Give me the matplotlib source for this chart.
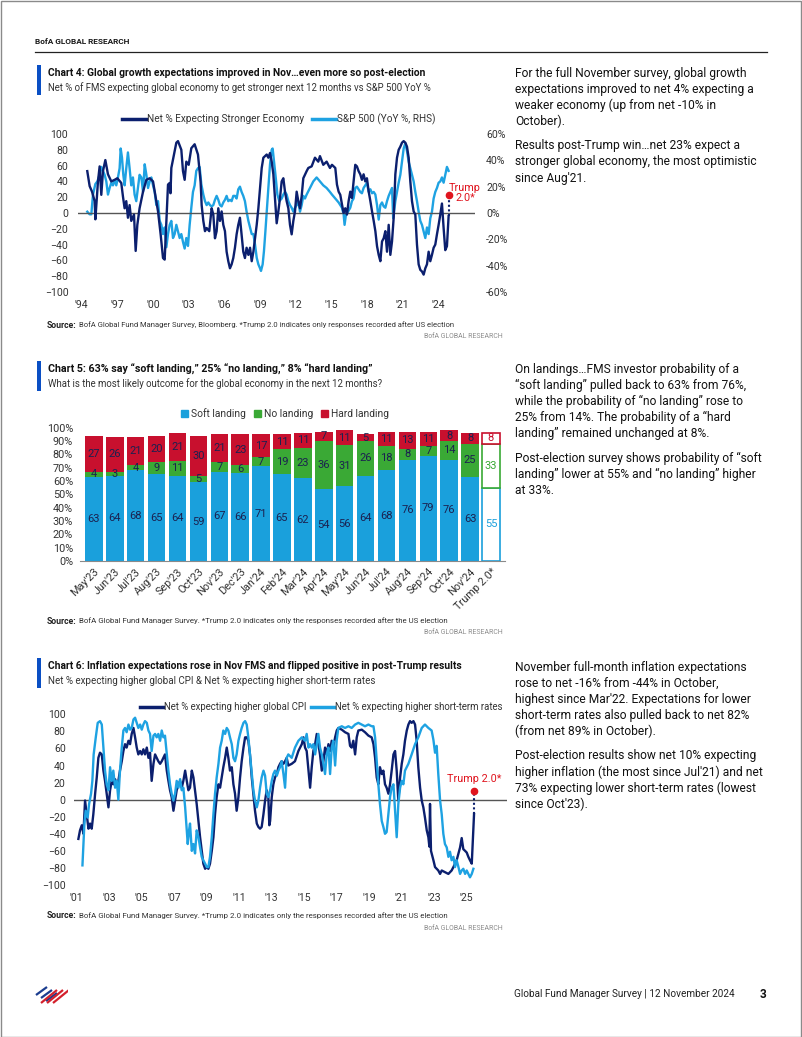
import matplotlib
matplotlib.use('Agg')
import matplotlib.pyplot as plt
from matplotlib.lines import Line2D
from matplotlib.patches import Patch, Rectangle

# ---------------- DATA ----------------
# Chart 4: net % expecting stronger economy (LHS) and S&P 500 YoY % (RHS)
growth = [(1994.47,53),(1994.67,34),(1994.87,27),(1995.09,15),(1995.15,-8),(1995.37,40),(1995.51,59),(1995.65,23),(1995.79,53),(1995.99,67),(1996.21,49),(1996.49,40),(1996.77,42),(1997.00,44),(1997.33,38),(1997.47,21),(1997.61,6),(1997.75,15),(1997.89,-6),(1998.03,10),(1998.17,-10),(1998.40,-2),(1998.54,-48),(1998.68,-15),(1998.87,6),(1999.16,27),(1999.44,42),(1999.72,44),(2000.00,40),(2000.19,23),(2000.42,2),(2000.64,-27),(2000.84,-57),(2000.98,-59),(2001.12,-10),(2001.26,36),(2001.40,38),(2001.47,25),(2001.54,57),(2001.76,74),(2001.96,89),(2002.10,91),(2002.38,80),(2002.52,53),(2002.66,42),(2002.80,65),(2003.00,61),(2003.22,82),(2003.50,87),(2003.78,74),(2004.00,40),(2004.09,10),(2004.23,-10),(2004.37,-23),(2004.51,-19),(2004.73,-23),(2004.93,6),(2005.07,-2),(2005.21,-32),(2005.35,-23),(2005.49,6),(2005.63,-10),(2005.77,2),(2005.91,-15),(2006.05,-23),(2006.19,-49),(2006.33,-61),(2006.47,-70),(2006.61,-65),(2006.75,-57),(2006.89,-44),(2007.03,-27),(2007.17,-15),(2007.31,-6),(2007.45,-27),(2007.59,-49),(2007.73,-57),(2007.87,-44),(2008.02,-53),(2008.16,-44),(2008.30,-61),(2008.44,-49),(2008.58,-32),(2008.72,-15),(2008.86,6),(2009.00,32),(2009.14,57),(2009.28,70),(2009.42,72),(2009.56,74),(2009.70,70),(2009.84,76),(2009.98,65),(2010.12,49),(2010.26,19),(2010.40,-13),(2010.54,2),(2010.68,19),(2010.82,40),(2010.96,44),(2011.10,27),(2011.24,15),(2011.38,6),(2011.52,-15),(2011.66,-27),(2011.80,-10),(2011.94,2),(2012.08,27),(2012.22,15),(2012.36,6),(2012.50,21),(2012.64,44),(2012.92,53),(2013.06,57),(2013.34,59),(2013.62,70),(2013.90,65),(2014.04,72),(2014.32,61),(2014.60,65),(2014.88,57),(2015.05,61),(2015.33,57),(2015.47,36),(2015.61,27),(2015.75,23),(2015.89,11),(2016.03,0),(2016.17,6),(2016.31,-2),(2016.45,15),(2016.59,27),(2016.73,19),(2016.87,40),(2017.01,61),(2017.15,59),(2017.29,53),(2017.43,49),(2017.57,42),(2017.71,49),(2017.85,40),(2017.99,44),(2018.14,27),(2018.28,15),(2018.42,2),(2018.56,-10),(2018.70,-23),(2018.84,-42),(2018.98,-53),(2019.12,-61),(2019.26,-36),(2019.40,-32),(2019.54,-23),(2019.68,-49),(2019.82,-15),(2019.96,-53),(2020.10,-36),(2020.24,-6),(2020.38,49),(2020.52,70),(2020.66,80),(2020.80,84),(2020.94,89),(2021.08,91),(2021.22,89),(2021.36,84),(2021.50,70),(2021.64,40),(2021.78,15),(2021.92,2),(2022.06,-2),(2022.20,-40),(2022.34,-65),(2022.48,-72),(2022.62,-74),(2022.76,-78),(2022.90,-70),(2023.04,-65),(2023.18,-49),(2023.32,-61),(2023.46,-53),(2023.60,-44),(2023.74,-40),(2023.88,-27),(2024.02,-15),(2024.16,-2),(2024.30,12),(2024.44,-19),(2024.58,-47),(2024.72,-42),(2024.86,-4)]
sp500 = [(1994.47,1),(1994.67,-1),(1994.81,-1),(1994.95,14),(1995.15,22),(1995.32,24),(1995.51,29),(1995.65,35),(1995.79,32),(1995.93,29),(1996.07,24),(1996.21,14),(1996.35,19),(1996.49,23),(1996.63,21),(1996.77,25),(1996.91,21),(1997.05,27),(1997.19,34),(1997.28,49),(1997.39,42),(1997.50,29),(1997.61,21),(1997.75,34),(1997.89,46),(1998.03,34),(1998.17,21),(1998.31,27),(1998.45,14),(1998.59,9),(1998.73,19),(1998.87,29),(1999.02,27),(1999.16,16),(1999.30,37),(1999.44,29),(1999.58,19),(1999.72,24),(1999.86,27),(2000.00,21),(2000.14,16),(2000.28,6),(2000.42,9),(2000.56,-6),(2000.70,-9),(2000.84,-16),(2000.98,-11),(2001.12,-26),(2001.26,-16),(2001.40,-9),(2001.54,-6),(2001.68,-19),(2001.82,-16),(2001.96,-9),(2002.10,-14),(2002.24,-19),(2002.38,-16),(2002.52,-22),(2002.66,-27),(2002.80,-19),(2002.94,-25),(2003.08,-9),(2003.22,4),(2003.36,16),(2003.50,21),(2003.64,32),(2003.78,34),(2003.92,35),(2004.06,22),(2004.23,14),(2004.37,9),(2004.51,6),(2004.65,8),(2004.79,6),(2004.93,5),(2005.07,6),(2005.21,10),(2005.35,13),(2005.49,10),(2005.63,6),(2005.77,5),(2005.91,8),(2006.05,10),(2006.19,13),(2006.33,9),(2006.47,10),(2006.61,9),(2006.75,13),(2006.89,13),(2007.03,11),(2007.17,18),(2007.31,20),(2007.45,16),(2007.59,13),(2007.73,9),(2007.87,1),(2008.02,-6),(2008.16,-11),(2008.30,-16),(2008.44,-16),(2008.58,-24),(2008.72,-34),(2008.86,-39),(2009.00,-42),(2009.08,-44),(2009.22,-39),(2009.33,-29),(2009.45,-14),(2009.56,1),(2009.70,19),(2009.84,37),(2009.98,48),(2010.06,49),(2010.18,39),(2010.32,27),(2010.46,14),(2010.62,9),(2010.82,11),(2010.96,14),(2011.10,16),(2011.24,14),(2011.38,9),(2011.52,6),(2011.66,4),(2011.80,1),(2011.94,4),(2012.08,6),(2012.22,9),(2012.36,1),(2012.50,6),(2012.64,13),(2012.78,11),(2012.92,14),(2013.20,19),(2013.48,24),(2013.76,27),(2014.04,24),(2014.32,21),(2014.60,19),(2014.88,16),(2015.05,14),(2015.33,11),(2015.61,8),(2015.75,6),(2015.89,4),(2016.03,-1),(2016.11,-9),(2016.23,-1),(2016.40,1),(2016.59,4),(2016.73,9),(2016.87,11),(2017.01,19),(2017.15,20),(2017.29,18),(2017.43,16),(2017.57,15),(2017.71,19),(2017.85,21),(2017.99,23),(2018.14,16),(2018.28,18),(2018.42,15),(2018.56,16),(2018.70,14),(2018.84,6),(2018.98,-5),(2019.12,6),(2019.26,8),(2019.40,5),(2019.54,4),(2019.68,9),(2019.82,13),(2019.96,16),(2020.10,19),(2020.20,-4),(2020.38,9),(2020.52,16),(2020.66,23),(2020.80,29),(2020.94,39),(2021.08,49),(2021.22,53),(2021.36,47),(2021.50,39),(2021.64,34),(2021.78,29),(2021.92,24),(2022.06,16),(2022.20,9),(2022.34,1),(2022.48,-6),(2022.62,-9),(2022.76,-14),(2022.90,-19),(2023.04,-11),(2023.18,-16),(2023.32,-4),(2023.46,1),(2023.60,11),(2023.74,16),(2023.88,19),(2024.02,23),(2024.16,24),(2024.30,27),(2024.44,23),(2024.58,29),(2024.72,35),(2024.86,32)]
trump4 = (2024.86, 23)
c4_ticks = list(range(1994, 2025, 3))
c4_ticklabels = ["'94", "'97", "'00", "'03", "'06", "'09", "'12", "'15", "'18", "'21", "'24"]

# Chart 5: landing outcomes
c5_months = ["May'23", "Jun'23", "Jul'23", "Aug'23", "Sep'23", "Oct'23", "Nov'23", "Dec'23", "Jan'24",
             "Feb'24", "Mar'24", "Apr'24", "May'24", "Jun'24", "Jul'24", "Aug'24", "Sep'24", "Oct'24",
             "Nov'24", "Trump 2.0*"]
soft = [63, 64, 68, 65, 64, 59, 67, 66, 71, 65, 62, 54, 56, 64, 68, 76, 79, 76, 63, 55]
noland = [4, 3, 4, 9, 11, 5, 7, 6, 7, 19, 23, 36, 31, 26, 18, 8, 7, 14, 25, 33]
hard = [27, 26, 21, 20, 21, 30, 21, 23, 17, 11, 11, 7, 11, 5, 11, 13, 11, 8, 8, 8]

# Chart 6: net % expecting higher CPI / higher short-term rates
cpi = [(2001.10,-46),(2001.20,-36),(2001.31,-30),(2001.41,-40),(2001.51,-1),(2001.61,-17),(2001.72,-34),(2001.82,-28),(2001.92,-34),(2002.02,-17),(2002.13,7),(2002.23,26),(2002.33,49),(2002.43,55),(2002.54,53),(2002.64,34),(2002.74,22),(2002.84,7),(2002.95,-9),(2003.05,11),(2003.15,22),(2003.25,18),(2003.36,24),(2003.46,18),(2003.56,22),(2003.66,34),(2003.77,45),(2003.87,57),(2003.97,65),(2004.07,61),(2004.18,69),(2004.28,65),(2004.38,77),(2004.49,84),(2004.59,73),(2004.69,61),(2004.79,53),(2004.90,57),(2005.00,53),(2005.10,59),(2005.20,53),(2005.31,61),(2005.41,49),(2005.51,55),(2005.61,22),(2005.72,42),(2005.82,53),(2005.92,49),(2006.02,45),(2006.13,42),(2006.23,45),(2006.33,49),(2006.43,53),(2006.54,34),(2006.64,22),(2006.74,11),(2006.84,3),(2006.95,-13),(2007.05,-1),(2007.15,11),(2007.26,18),(2007.36,22),(2007.46,14),(2007.56,22),(2007.67,34),(2007.77,22),(2007.87,11),(2007.97,14),(2008.08,34),(2008.18,26),(2008.28,11),(2008.38,-5),(2008.49,-25),(2008.59,-44),(2008.69,-60),(2008.79,-75),(2008.90,-81),(2009.00,-79),(2009.10,-81),(2009.20,-75),(2009.31,-60),(2009.41,-44),(2009.51,-17),(2009.61,3),(2009.72,18),(2009.82,14),(2009.92,26),(2010.02,38),(2010.13,49),(2010.23,61),(2010.33,49),(2010.43,34),(2010.54,38),(2010.64,18),(2010.74,7),(2010.84,-13),(2010.95,3),(2011.05,26),(2011.15,45),(2011.26,61),(2011.36,73),(2011.46,73),(2011.56,69),(2011.66,53),(2011.77,26),(2011.87,7),(2011.97,-13),(2012.08,-28),(2012.18,-32),(2012.28,-34),(2012.38,-32),(2012.49,-17),(2012.59,-1),(2012.69,11),(2012.79,3),(2012.85,-30),(2012.90,-25),(2013.00,3),(2013.10,18),(2013.20,26),(2013.31,30),(2013.41,38),(2013.51,42),(2013.61,45),(2013.72,42),(2013.82,45),(2013.92,49),(2014.02,40),(2014.23,42),(2014.43,45),(2014.64,57),(2014.85,65),(2014.95,73),(2015.05,61),(2015.15,57),(2015.26,34),(2015.36,14),(2015.46,38),(2015.56,57),(2015.67,65),(2015.77,77),(2015.87,65),(2015.97,53),(2016.08,34),(2016.18,45),(2016.28,61),(2016.38,53),(2016.49,65),(2016.59,57),(2016.69,69),(2016.79,61),(2016.90,73),(2017.00,81),(2017.10,84),(2017.31,82),(2017.51,79),(2017.72,77),(2017.82,63),(2017.92,61),(2018.02,69),(2018.13,53),(2018.23,73),(2018.33,81),(2018.54,82),(2018.74,79),(2018.95,75),(2019.15,73),(2019.26,65),(2019.36,49),(2019.46,26),(2019.56,18),(2019.66,38),(2019.77,30),(2019.87,34),(2019.97,18),(2020.07,14),(2020.18,7),(2020.28,18),(2020.38,34),(2020.49,53),(2020.59,57),(2020.69,34),(2020.79,-1),(2020.90,26),(2021.00,42),(2021.10,53),(2021.20,69),(2021.31,81),(2021.41,88),(2021.51,92),(2021.61,90),(2021.72,92),(2021.82,88),(2021.92,69),(2022.02,38),(2022.13,14),(2022.23,-1),(2022.33,-9),(2022.43,-21),(2022.54,-36),(2022.64,-44),(2022.70,-55),(2022.74,-5),(2022.80,-60),(2022.95,-71),(2023.05,-79),(2023.15,-81),(2023.25,-83),(2023.36,-87),(2023.46,-83),(2023.66,-85),(2023.87,-87),(2024.07,-83),(2024.18,-79),(2024.28,-75),(2024.38,-71),(2024.49,-63),(2024.59,-56),(2024.69,-45),(2024.79,-58),(2024.90,-60),(2025.00,-62),(2025.10,-67),(2025.20,-71),(2025.31,-75),(2025.45,-17)]
rates = [(2001.35,-77),(2001.47,-28),(2001.55,-13),(2001.67,-21),(2001.76,-5),(2001.88,7),(2001.96,22),(2002.04,53),(2002.17,73),(2002.29,90),(2002.43,92),(2002.54,88),(2002.64,61),(2002.74,34),(2002.84,18),(2002.95,11),(2003.05,38),(2003.15,22),(2003.25,34),(2003.36,14),(2003.46,22),(2003.56,0),(2003.66,34),(2003.77,61),(2003.87,81),(2003.97,84),(2004.07,79),(2004.18,88),(2004.28,82),(2004.38,84),(2004.49,94),(2004.59,96),(2004.69,90),(2004.79,84),(2004.90,88),(2005.00,82),(2005.10,88),(2005.20,92),(2005.31,90),(2005.41,81),(2005.51,77),(2005.61,57),(2005.72,75),(2005.82,77),(2005.92,73),(2006.02,77),(2006.13,69),(2006.23,81),(2006.33,73),(2006.43,75),(2006.54,53),(2006.64,34),(2006.74,18),(2006.84,7),(2006.95,-1),(2007.05,7),(2007.15,22),(2007.26,14),(2007.36,24),(2007.46,11),(2007.56,14),(2007.67,-9),(2007.77,-36),(2007.83,-52),(2007.91,-36),(2007.97,-28),(2008.08,-60),(2008.18,-52),(2008.28,-63),(2008.38,-36),(2008.49,-44),(2008.59,-56),(2008.69,-67),(2008.79,-71),(2008.90,-75),(2009.00,-79),(2009.10,-79),(2009.20,-67),(2009.31,-44),(2009.41,-17),(2009.51,7),(2009.61,26),(2009.72,42),(2009.82,61),(2009.92,69),(2010.02,81),(2010.13,77),(2010.23,84),(2010.33,81),(2010.43,73),(2010.54,65),(2010.64,49),(2010.74,45),(2010.84,53),(2010.95,69),(2011.05,77),(2011.15,84),(2011.26,90),(2011.36,92),(2011.46,88),(2011.56,73),(2011.66,53),(2011.77,30),(2011.87,11),(2011.97,-1),(2012.08,-9),(2012.18,-1),(2012.28,14),(2012.38,26),(2012.49,34),(2012.59,28),(2012.69,7),(2012.79,3),(2012.90,11),(2013.00,22),(2013.10,30),(2013.20,34),(2013.31,28),(2013.41,34),(2013.51,38),(2013.61,45),(2013.72,30),(2013.82,14),(2013.92,49),(2014.02,53),(2014.23,49),(2014.43,61),(2014.64,69),(2014.85,73),(2015.05,69),(2015.15,77),(2015.26,61),(2015.36,65),(2015.46,61),(2015.56,65),(2015.67,53),(2015.77,65),(2015.87,77),(2015.97,61),(2016.08,53),(2016.18,42),(2016.28,30),(2016.38,53),(2016.49,61),(2016.59,30),(2016.69,61),(2016.79,69),(2016.90,40),(2017.00,70),(2017.10,84),(2017.31,86),(2017.51,84),(2017.72,86),(2017.92,84),(2018.13,88),(2018.33,90),(2018.54,88),(2018.74,86),(2018.95,88),(2019.15,86),(2019.26,86),(2019.36,73),(2019.46,45),(2019.56,18),(2019.66,-5),(2019.77,-25),(2019.87,-32),(2019.97,-40),(2020.07,-38),(2020.18,-17),(2020.28,3),(2020.38,14),(2020.49,18),(2020.59,-13),(2020.69,-44),(2020.79,-5),(2020.90,14),(2021.00,22),(2021.10,18),(2021.20,34),(2021.41,42),(2021.61,53),(2021.82,65),(2022.02,73),(2022.23,84),(2022.43,88),(2022.64,84),(2022.84,81),(2022.95,70),(2023.05,55),(2023.15,63),(2023.25,30),(2023.36,-1),(2023.46,-17),(2023.56,-40),(2023.66,-52),(2023.77,-56),(2023.87,-67),(2023.97,-61),(2024.07,-71),(2024.18,-67),(2024.28,-79),(2024.38,-71),(2024.49,-79),(2024.59,-87),(2024.69,-83),(2024.79,-81),(2024.90,-87),(2025.00,-83),(2025.10,-87),(2025.20,-91),(2025.31,-87),(2025.41,-81)]
trump6 = (2025.45, 10)
c6_ticks = list(range(2001, 2026, 2))
c6_ticklabels = ["'%02d" % (t % 100) for t in c6_ticks]

# ---------------- STYLE ----------------
NAVY = '#0b1f6e'
LIGHT = '#1ea2e2'
BLUE5 = '#1aa0dc'
GREEN5 = '#3aa935'
RED5 = '#c8102e'
TRED = '#e0141e'
NARROW = ['Liberation Sans Narrow', 'DejaVu Sans Condensed', 'Roboto', 'DejaVu Sans']
BODY = ['Roboto', 'DejaVu Sans']
plt.rcParams['font.family'] = NARROW

W, H = 802, 1037
fig = plt.figure(figsize=(W / 100, H / 100), dpi=100)
fig.patch.set_facecolor('white')
renderer = fig.canvas.get_renderer()


def fx(x):
    return x / W


def fy(y):
    return 1 - y / H


def px_axes(l, t, r, b, **kw):
    return fig.add_axes([l / W, 1 - b / H, (r - l) / W, (b - t) / H], **kw)


def fit_text(x, y, s, target_w, family, weight='normal', color='#111111', ha='left', size0=9):
    t = fig.text(fx(x), fy(y), s, family=family, weight=weight, color=color, ha=ha, va='center', fontsize=size0)
    w = t.get_window_extent(renderer).width
    t.set_fontsize(size0 * target_w / w)
    return t


def plain_axes(ax):
    for s in ax.spines.values():
        s.set_visible(False)
    ax.tick_params(length=0, colors='#333333', labelsize=7.6)


# page border + header
fig.add_artist(Rectangle((0.5 / W, 0.5 / H), 1 - 1.5 / W, 1 - 1.5 / H, transform=fig.transFigure,
                         fill=False, edgecolor='#8a8a8a', lw=1.0))
fit_text(35, 41, 'BofA GLOBAL RESEARCH', 95, NARROW, weight='bold', color='#1a1a1a', size0=6)
fig.add_artist(Line2D([fx(35), fx(767)], [fy(52), fy(52)], transform=fig.transFigure, color='#222222', lw=0.9))


def chart_header(y_title, title, tw, subtitle, sw):
    fig.add_artist(Rectangle((fx(37), fy(y_title + 22)), 4 / W, 30 / H, transform=fig.transFigure,
                             color='#0a4fc4', lw=0))
    fit_text(48, y_title, title, tw, NARROW, weight='bold', color='#111111')
    fit_text(48, y_title + 15, subtitle, sw, NARROW, color='#333333')


def source(y, rest, total_w):
    t1 = fig.text(fx(47), fy(y), 'Source:', family=NARROW, weight='bold', fontsize=6.2, color='#222222',
                  va='center')
    w1 = t1.get_window_extent(renderer).width
    t2 = fig.text(fx(47 + w1 + 2), fy(y), rest, family=NARROW, fontsize=6.2, color='#333333', va='center')
    w2 = t2.get_window_extent(renderer).width
    s = (total_w - w1 - 2) / w2
    t2.set_fontsize(6.2 * s)
    fit_text(503, y + 12, 'BofA GLOBAL RESEARCH', 78, NARROW, color='#8c8c8c', ha='right', size0=5.5)


# ---------------- CHART 4 ----------------
chart_header(73, 'Chart 4: Global growth expectations improved in Nov\u2026even more so post-election', 376,
             'Net % of FMS expecting global economy to get stronger next 12 months vs S&P 500 YoY %', 389)
ax4 = px_axes(78, 134, 475, 292)
ax4r = ax4.twinx()
gx = [p[0] for p in growth]
gy = [p[1] for p in growth]
sx = [p[0] for p in sp500]
sy = [p[1] for p in sp500]
ax4.axhline(0, color='#555555', lw=1.0, zorder=1)
ax4.plot(gx, gy, color=NAVY, lw=1.7, zorder=3)
ax4r.plot(sx, sy, color=LIGHT, lw=1.7, zorder=2)
ax4.plot([trump4[0], trump4[0]], [gy[-1], trump4[1]], color=NAVY, lw=1.5, ls=(0, (1, 1.2)), zorder=4)
ax4.plot([trump4[0]], [trump4[1]], 'o', color=TRED, ms=4.5, zorder=5)
ax4.text(2026.25, 25, 'Trump\n2.0*', color=TRED, fontsize=7.8, ha='center', va='center', linespacing=1.0)
ax4.set_xlim(1993.69, 2027.08)
ax4.set_ylim(-100, 100)
ax4r.set_ylim(-60, 60)
ax4.set_yticks(range(-100, 101, 20))
ax4r.set_yticks(range(-60, 61, 20))
ax4r.set_yticklabels(['%d%%' % v for v in range(-60, 61, 20)])
ax4.set_xticks(c4_ticks)
ax4.set_xticklabels(c4_ticklabels)
plain_axes(ax4)
plain_axes(ax4r)
ax4.tick_params(axis='y', pad=7)
ax4r.tick_params(axis='y', pad=8)
ax4.tick_params(axis='x', pad=6)
ax4.set_zorder(ax4r.get_zorder() + 1)
ax4.patch.set_visible(False)
leg4 = [Line2D([0], [0], color=NAVY, lw=2.5), Line2D([0], [0], color=LIGHT, lw=2.5)]
fig.legend(leg4, ['Net % Expecting Stronger Economy', 'S&P 500 (YoY %, RHS)'], loc='center',
           bbox_to_anchor=(fx(279), fy(119)), ncol=2, frameon=False, fontsize=7.2, handlelength=2.4,
           handletextpad=0.1, columnspacing=0.8, labelcolor='#333333')
source(325, 'BofA Global Fund Manager Survey, Bloomberg. *Trump 2.0 indicates only responses recorded after US election', 408)

# ---------------- CHART 5 ----------------
chart_header(369, 'Chart 5: 63% say \u201csoft landing,\u201d 25% \u201cno landing,\u201d 8% \u201chard landing\u201d', 322,
             'What is the most likely outcome for the global economy in the next 12 months?', 341)
ax5 = px_axes(80, 427.7, 505, 561)
n = len(c5_months)
xs = list(range(n))
bw = 0.84
bottom2 = [s + nl for s, nl in zip(soft, noland)]
for i in xs:
    last = (i == n - 1)
    if last:
        ax5.bar(i, soft[i], bw, color='white', edgecolor=BLUE5, lw=1.2)
        ax5.bar(i, noland[i], bw, bottom=soft[i], color='white', edgecolor=GREEN5, lw=1.2)
        ax5.bar(i, hard[i], bw, bottom=bottom2[i], color='white', edgecolor=RED5, lw=1.2)
        cols = (BLUE5, GREEN5, RED5)
    else:
        ax5.bar(i, soft[i], bw, color=BLUE5, lw=0)
        ax5.bar(i, noland[i], bw, bottom=soft[i], color=GREEN5, lw=0)
        ax5.bar(i, hard[i], bw, bottom=bottom2[i], color=RED5, lw=0)
        cols = ('#1b2150', '#1b2150', '#1b2150')
    ax5.text(i, soft[i] / 2, str(soft[i]), ha='center', va='center', fontsize=8, color=cols[0])
    ax5.text(i, soft[i] + noland[i] / 2, str(noland[i]), ha='center', va='center', fontsize=8, color=cols[1])
    ax5.text(i, bottom2[i] + hard[i] / 2, str(hard[i]), ha='center', va='center', fontsize=8, color=cols[2])
ax5.set_xlim(-0.665, 19.67)
ax5.set_ylim(0, 100)
ax5.set_yticks(range(0, 101, 10))
ax5.set_yticklabels(['%d%%' % v for v in range(0, 101, 10)])
ax5.set_xticks(xs)
ax5.set_xticklabels(c5_months, rotation=45, ha='right', va='top', rotation_mode='anchor')
plain_axes(ax5)
ax5.tick_params(labelsize=7.8)
ax5.spines['bottom'].set_visible(True)
ax5.spines['bottom'].set_color('#8a8a8a')
ax5.tick_params(axis='y', pad=5)
ax5.tick_params(axis='x', pad=4)
leg5 = [Patch(color=BLUE5), Patch(color=GREEN5), Patch(color=RED5)]
fig.legend(leg5, ['Soft landing', 'No landing', 'Hard landing'], loc='center', bbox_to_anchor=(fx(285), fy(414)),
           ncol=3, frameon=False, fontsize=7.4, handlelength=0.7, handleheight=0.7, handletextpad=0.25,
           columnspacing=0.8, labelcolor='#333333')
source(621, 'BofA Global Fund Manager Survey. *Trump 2.0 indicates only the responses recorded after the US election', 406)

# ---------------- CHART 6 ----------------
chart_header(666, 'Chart 6: Inflation expectations rose in Nov FMS and flipped positive in post-Trump results', 413,
             'Net % expecting higher global CPI & Net % expecting higher short-term rates', 330)
ax6 = px_axes(74, 714.3, 506.7, 885)
cx = [p[0] for p in cpi]
cy = [p[1] for p in cpi]
rx = [p[0] for p in rates]
ry = [p[1] for p in rates]
ax6.axhline(0, color='#555555', lw=1.0, zorder=1)
ax6.plot(cx, cy, color=NAVY, lw=1.7, zorder=2)
ax6.plot(rx, ry, color=LIGHT, lw=1.7, zorder=3)
ax6.plot([trump6[0], trump6[0]], [cy[-1], trump6[1]], color=NAVY, lw=1.5, ls=(0, (1, 1.2)), zorder=4)
ax6.plot([trump6[0]], [trump6[1]], 'o', color=TRED, ms=4.5, zorder=5)
ax6.text(trump6[0], 24, 'Trump 2.0*', color=TRED, fontsize=7.8, ha='center', va='center')
ax6.set_xlim(2000.83, 2027.46)
ax6.set_ylim(-100, 100)
ax6.set_yticks(range(-100, 101, 20))
ax6.set_xticks(c6_ticks)
ax6.set_xticklabels(c6_ticklabels)
plain_axes(ax6)
ax6.tick_params(axis='y', pad=6)
ax6.tick_params(axis='x', pad=6)
leg6 = [Line2D([0], [0], color=NAVY, lw=2.5), Line2D([0], [0], color=LIGHT, lw=2.5)]
fig.legend(leg6, ['Net % expecting higher global CPI', 'Net % expecting higher short-term rates'], loc='center',
           bbox_to_anchor=(fx(321), fy(707)), ncol=2, frameon=False, fontsize=6.9, handlelength=2.4,
           handletextpad=0.1, columnspacing=0.5, labelcolor='#333333')
source(916, 'BofA Global Fund Manager Survey. *Trump 2.0 indicates only the responses recorded after the US election', 406)

# ---------------- RIGHT COLUMN TEXT ----------------
paras = [
    (73, ["For the full November survey, global growth",
          "expectations improved to net 4% expecting a",
          "weaker economy (up from net -10% in",
          "October)."]),
    (146, ["Results post-Trump win\u2026net 23% expect a",
           "stronger global economy, the most optimistic",
           "since Aug'21."]),
    (369, ["On landings\u2026FMS investor probability of a",
           "\u201csoft landing\u201d pulled back to 63% from 76%,",
           "while the probability of \u201cno landing\u201d rose to",
           "25% from 14%. The probability of a \u201chard",
           "landing\u201d remained unchanged at 8%."]),
    (458, ["Post-election survey shows probability of \u201csoft",
           "landing\u201d lower at 55% and \u201cno landing\u201d higher",
           "at 33%."]),
    (667, ["November full-month inflation expectations",
           "rose to net -16% from -44% in October,",
           "highest since Mar'22. Expectations for lower",
           "short-term rates also pulled back to net 82%",
           "(from net 89% in October)."]),
    (756, ["Post-election results show net 10% expecting",
           "higher inflation (the most since Jul'21) and net",
           "73% expecting lower short-term rates (lowest",
           "since Oct'23)."]),
]
probe = fig.text(0, 0, paras[0][1][0], family=BODY, fontsize=9)
body_size = 9 * 232 / probe.get_window_extent(renderer).width
probe.remove()
for y0, lines in paras:
    for k, line in enumerate(lines):
        fig.text(fx(515), fy(y0 + 16 * k), line, family=BODY, fontsize=body_size, color='#111111', va='center')

# ---------------- FOOTER ----------------
logo = px_axes(33, 982, 68, 1006)
logo.set_xlim(0, 35)
logo.set_ylim(24, 0)
logo.axis('off')
for k in range(3):
    logo.plot([3 + 5 * k, 14 + 5 * k], [13 + 3 * k, 5 + 3 * k], color='#1b3d8f', lw=1.6, solid_capstyle='butt')
for k in range(3):
    logo.plot([8 + 6 * k, 24 + 6 * k], [21, 8], color='#d4202c', lw=1.6, solid_capstyle='butt')
fit_text(735, 994, 'Global Fund Manager Survey | 12 November 2024', 220, NARROW, color='#222222', ha='right')
fig.text(fx(760), fy(994), '3', family=NARROW, weight='bold', fontsize=8.5, color='#111111', va='center')

fig.savefig('out.png', dpi=100, facecolor='white')
